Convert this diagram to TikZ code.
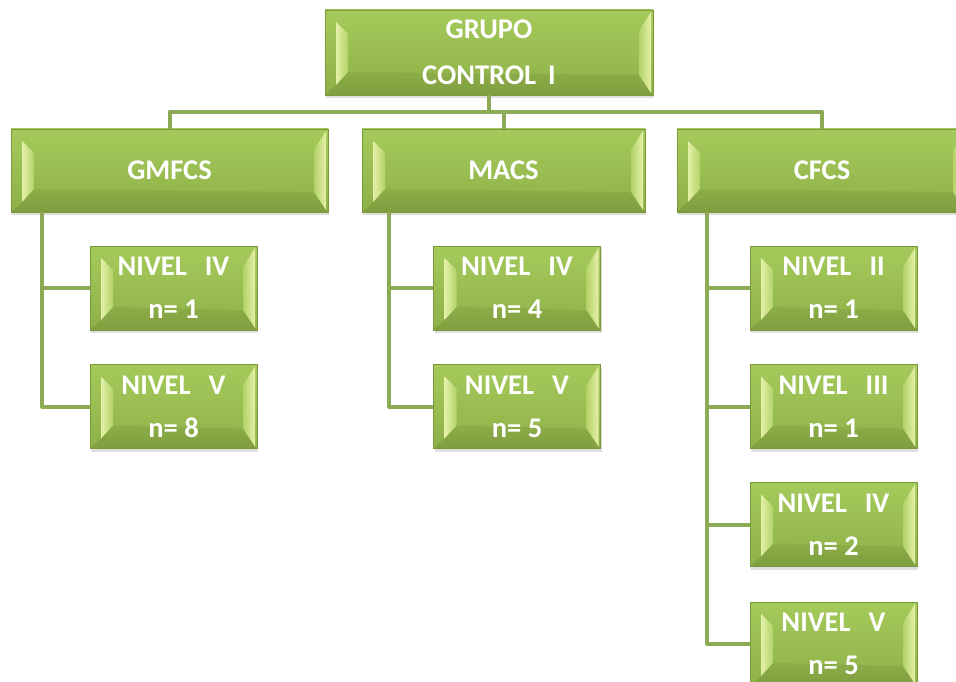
\documentclass[tikz,border=0pt]{standalone}
\usepackage{fontspec}
\setmainfont{Carlito}
\usetikzlibrary{shadows,calc}

\definecolor{facetop}{HTML}{A5CA5B}
\definecolor{facebot}{HTML}{8EB148}
\definecolor{boxedge}{HTML}{7A983C}
\definecolor{bevlight}{HTML}{E4F0A8}
\definecolor{bevmid}{HTML}{B3D267}
\definecolor{bevdark}{HTML}{7F9E40}
\definecolor{bevdarkin}{HTML}{8CAD48}
\definecolor{connc}{HTML}{8DAA55}

\tikzset{
  bevelbox/.style={
    rectangle, inner sep=0pt, draw=boxedge, line width=0.6pt,
    top color=facetop, bottom color=facebot,
    text=white, align=center,
    drop shadow={shadow xshift=1pt, shadow yshift=-3pt, opacity=0.25},
    path picture={
      \coordinate (pnw) at (path picture bounding box.north west);
      \coordinate (pne) at (path picture bounding box.north east);
      \coordinate (psw) at (path picture bounding box.south west);
      \coordinate (pse) at (path picture bounding box.south east);
      % lower bevel
      \shade[top color=bevdarkin, bottom color=bevdark]
        (psw) -- ([xshift=11pt,yshift=10pt]psw) -- ([xshift=23pt,yshift=23pt]psw)
        -- ([xshift=-14pt,yshift=20pt]pse) -- ([xshift=-2pt,yshift=2pt]pse) -- (pse) -- cycle;
      % left bevel
      \shade[left color=bevlight, right color=bevmid]
        ([xshift=11pt,yshift=-12pt]pnw) -- ([xshift=23pt,yshift=-24pt]pnw)
        -- ([xshift=23pt,yshift=23pt]psw) -- ([xshift=11pt,yshift=10pt]psw) -- cycle;
      % right bevel
      \shade[left color=bevmid, right color=bevlight]
        ([xshift=-14pt,yshift=-21pt]pne) -- ([xshift=-2pt,yshift=-2pt]pne)
        -- ([xshift=-2pt,yshift=2pt]pse) -- ([xshift=-14pt,yshift=20pt]pse) -- cycle;
    }},
  headbox/.style={bevelbox, font=\bfseries\fontsize{28.5pt}{46pt}\selectfont},
  groupbox/.style={bevelbox, minimum height=83pt, font=\bfseries\fontsize{28.5pt}{43pt}\selectfont},
  levelbox/.style={bevelbox, minimum width=167pt, minimum height=84pt,
    font=\bfseries\fontsize{28.5pt}{43pt}\selectfont},
  conn/.style={draw=connc, line width=4pt, line join=round},
}

\newcommand{\gapw}{\hspace{18pt}}

\begin{document}
\begin{tikzpicture}[x=1pt,y=-1pt]
  \useasboundingbox (0,0) rectangle (956,682);

  % root
  \node[headbox, minimum width=328pt, minimum height=85pt] (top) at (489,52.5)
    {GRUPO\\CONTROL\hspace{12pt}I};

  % classification systems
  \node[groupbox, minimum width=317pt] (g) at (169.5,170.5) {GMFCS};
  \node[groupbox, minimum width=283pt] (m) at (503.5,170.5) {MACS};
  \node[groupbox, minimum width=290pt] (c) at (822,170.5) {CFCS};

  % levels
  \node[levelbox] (g1) at (173.5,288)   {NIVEL\gapw IV\\n= 1};
  \node[levelbox] (g2) at (173.5,406.5) {NIVEL\gapw V\\n= 8};
  \node[levelbox] (m1) at (517,288)     {NIVEL\gapw IV\\n= 4};
  \node[levelbox] (m2) at (517,406.5)   {NIVEL\gapw V\\n= 5};
  \node[levelbox] (c1) at (833.5,288)   {NIVEL\gapw II\\n= 1};
  \node[levelbox] (c2) at (833.5,406.5) {NIVEL\gapw III\\n= 1};
  \node[levelbox] (c3) at (833.5,524.5) {NIVEL\gapw IV\\n= 2};
  \node[levelbox] (c4) at (833.5,644)   {NIVEL\gapw V\\n= 5};

  % connectors from the root
  \coordinate (bus) at (489,112);
  \draw[conn] (top.south) -- (bus);
  \draw[conn] (g.north) |- (bus) -| (c.north);
  \draw[conn] (m.north) -- (m.north |- bus);

  % connectors to the levels
  \coordinate (gs) at ($(g.south west)+(31pt,0pt)$);
  \coordinate (ms) at ($(m.south west)+(27pt,0pt)$);
  \coordinate (cs) at ($(c.south west)+(30pt,0pt)$);
  \draw[conn] (gs) |- (g2.west);
  \draw[conn] (gs |- g1.west) -- (g1.west);
  \draw[conn] (ms) |- (m2.west);
  \draw[conn] (ms |- m1.west) -- (m1.west);
  \draw[conn] (cs) |- (c4.west);
  \draw[conn] (cs |- c1.west) -- (c1.west);
  \draw[conn] (cs |- c2.west) -- (c2.west);
  \draw[conn] (cs |- c3.west) -- (c3.west);
\end{tikzpicture}
\end{document}
